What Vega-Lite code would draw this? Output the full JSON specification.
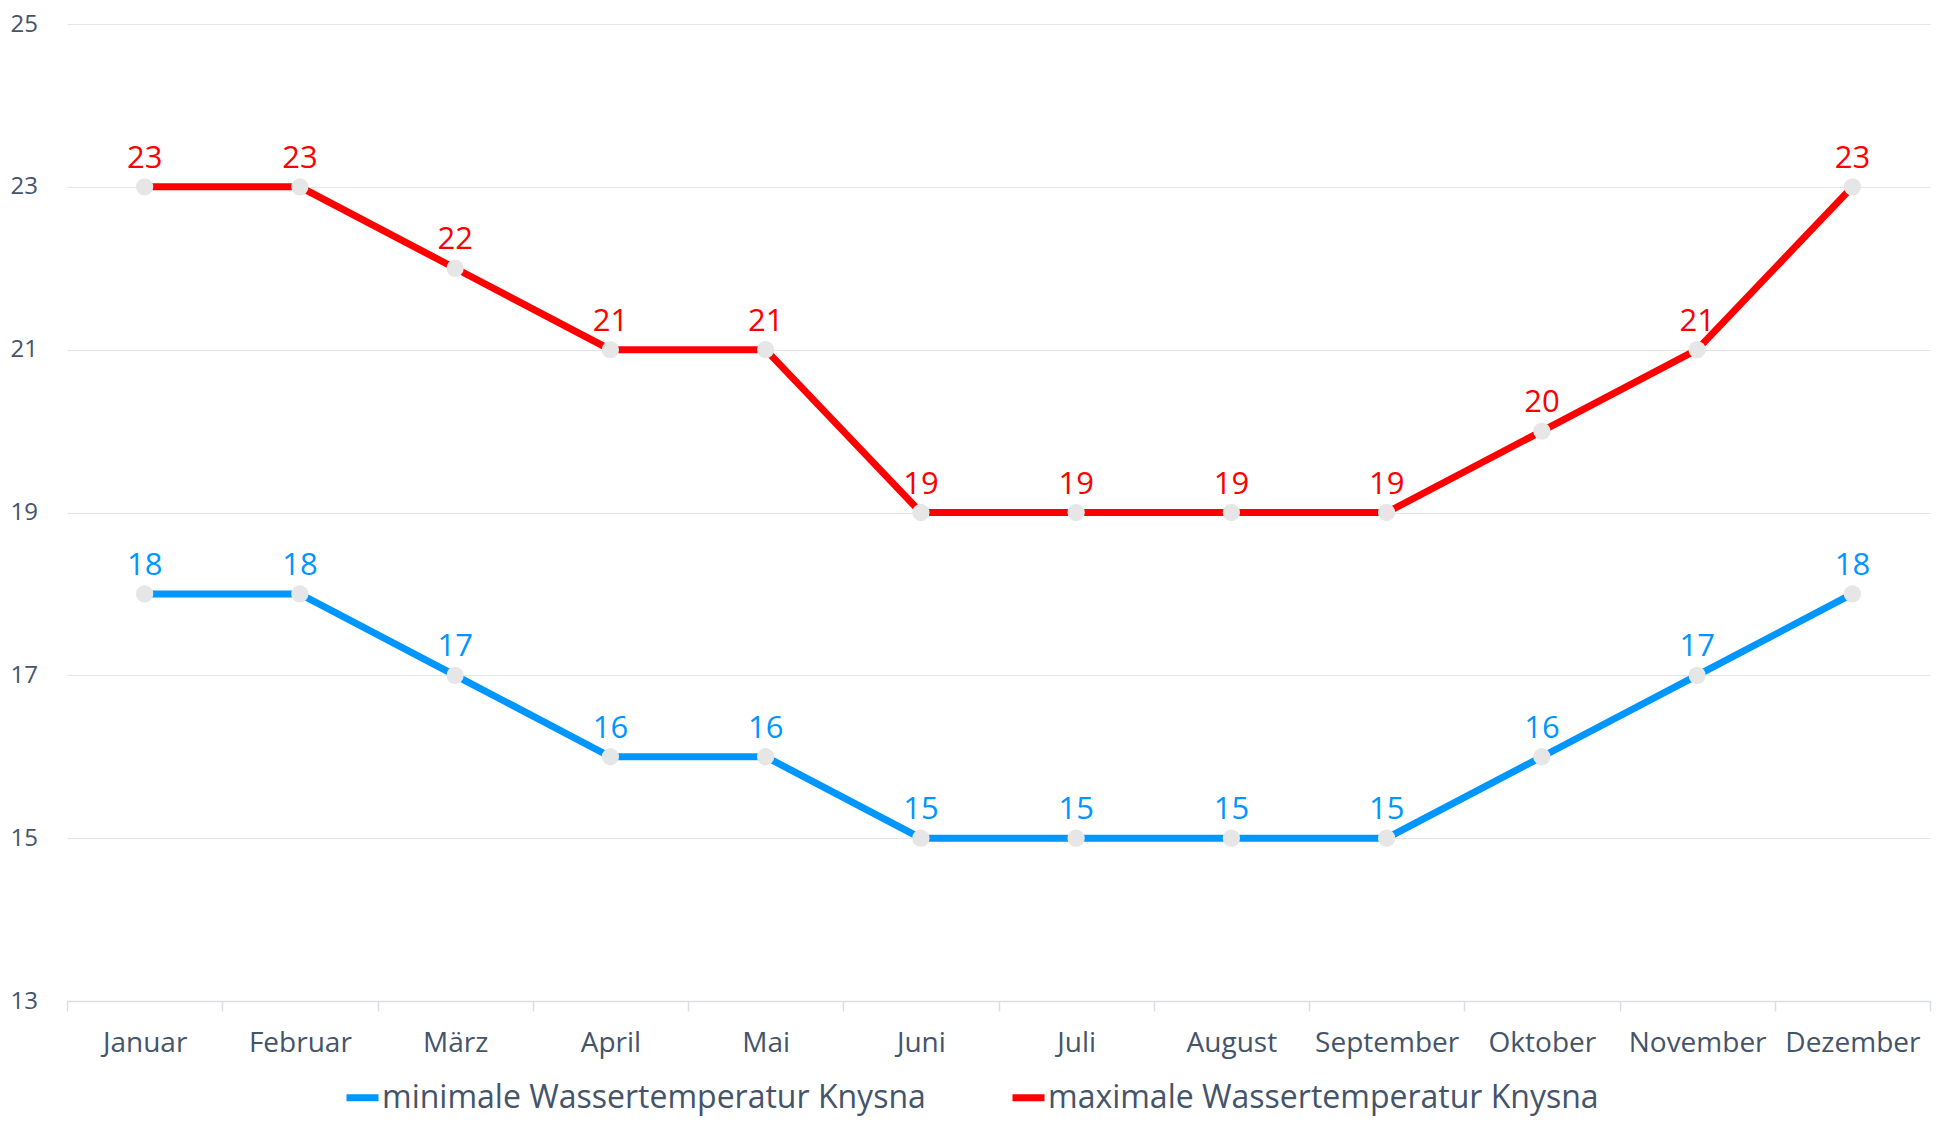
{
  "$schema": "https://vega.github.io/schema/vega-lite/v6.json",
  "autosize": {"type": "none"},
  "width": 1863,
  "height": 977,
  "padding": {"left": 67, "top": 24, "right": 15, "bottom": 130},
  "background": "white",
  "config": {
    "view": {"stroke": null},
    "font": "Open Sans"
  },
  "data": {
    "values": [
      {"Monat": "Januar", "Serie": "minimale Wassertemperatur Knysna", "Wert": 18},
      {"Monat": "Februar", "Serie": "minimale Wassertemperatur Knysna", "Wert": 18},
      {"Monat": "März", "Serie": "minimale Wassertemperatur Knysna", "Wert": 17},
      {"Monat": "April", "Serie": "minimale Wassertemperatur Knysna", "Wert": 16},
      {"Monat": "Mai", "Serie": "minimale Wassertemperatur Knysna", "Wert": 16},
      {"Monat": "Juni", "Serie": "minimale Wassertemperatur Knysna", "Wert": 15},
      {"Monat": "Juli", "Serie": "minimale Wassertemperatur Knysna", "Wert": 15},
      {"Monat": "August", "Serie": "minimale Wassertemperatur Knysna", "Wert": 15},
      {"Monat": "September", "Serie": "minimale Wassertemperatur Knysna", "Wert": 15},
      {"Monat": "Oktober", "Serie": "minimale Wassertemperatur Knysna", "Wert": 16},
      {"Monat": "November", "Serie": "minimale Wassertemperatur Knysna", "Wert": 17},
      {"Monat": "Dezember", "Serie": "minimale Wassertemperatur Knysna", "Wert": 18},
      {"Monat": "Januar", "Serie": "maximale Wassertemperatur Knysna", "Wert": 23},
      {"Monat": "Februar", "Serie": "maximale Wassertemperatur Knysna", "Wert": 23},
      {"Monat": "März", "Serie": "maximale Wassertemperatur Knysna", "Wert": 22},
      {"Monat": "April", "Serie": "maximale Wassertemperatur Knysna", "Wert": 21},
      {"Monat": "Mai", "Serie": "maximale Wassertemperatur Knysna", "Wert": 21},
      {"Monat": "Juni", "Serie": "maximale Wassertemperatur Knysna", "Wert": 19},
      {"Monat": "Juli", "Serie": "maximale Wassertemperatur Knysna", "Wert": 19},
      {"Monat": "August", "Serie": "maximale Wassertemperatur Knysna", "Wert": 19},
      {"Monat": "September", "Serie": "maximale Wassertemperatur Knysna", "Wert": 19},
      {"Monat": "Oktober", "Serie": "maximale Wassertemperatur Knysna", "Wert": 20},
      {"Monat": "November", "Serie": "maximale Wassertemperatur Knysna", "Wert": 21},
      {"Monat": "Dezember", "Serie": "maximale Wassertemperatur Knysna", "Wert": 23}
    ]
  },
  "encoding": {
    "x": {
      "field": "Monat",
      "type": "nominal",
      "bandPosition": 0.5,
      "sort": ["Januar", "Februar", "März", "April", "Mai", "Juni", "Juli", "August", "September", "Oktober", "November", "Dezember"],
      "scale": {"type": "band", "paddingInner": 0, "paddingOuter": 0},
      "axis": {
        "title": null,
        "labelAngle": 0,
        "labelFont": "Open Sans",
        "labelFontSize": 28,
        "labelColor": "#44546A",
        "labelPadding": 18,
        "labelBaseline": "top",
        "domainColor": "#D9DDE5",
        "domainWidth": 1.5,
        "tickColor": "#D9DDE5",
        "tickWidth": 1.5,
        "tickSize": 10,
        "tickBand": "extent",
        "grid": false
      }
    },
    "y": {
      "field": "Wert",
      "type": "quantitative",
      "scale": {"domain": [13, 25], "nice": false, "zero": false},
      "axis": {
        "title": null,
        "values": [13, 15, 17, 19, 21, 23, 25],
        "labelFont": "Open Sans",
        "labelFontSize": 24,
        "labelColor": "#44546A",
        "labelAlign": "left",
        "labelBaseline": "middle",
        "labelPadding": 57,
        "ticks": false,
        "tickSize": 0,
        "domain": false,
        "grid": true,
        "gridColor": "#E1E5EB",
        "gridWidth": 1.2
      }
    }
  },
  "layer": [
    {
      "mark": {"type": "line", "strokeWidth": 7},
      "encoding": {
        "color": {
          "field": "Serie",
          "type": "nominal",
          "sort": ["minimale Wassertemperatur Knysna", "maximale Wassertemperatur Knysna"],
          "scale": {
            "domain": ["minimale Wassertemperatur Knysna", "maximale Wassertemperatur Knysna"],
            "range": ["#0096FF", "#FF0000"]
          },
          "legend": {
            "title": null,
            "orient": "none",
            "direction": "horizontal",
            "legendX": 276,
            "legendY": 1054,
            "symbolType": "stroke",
            "symbolSize": 1024,
            "symbolStrokeWidth": 7,
            "labelFont": "Open Sans",
            "labelFontSize": 32,
            "labelColor": "#44546A",
            "labelOffset": 0,
            "labelLimit": 900,
            "columnPadding": 72
          }
        }
      }
    },
    {
      "mark": {"type": "point", "filled": true, "size": 300, "color": "#E6E6E6", "opacity": 1},
      "encoding": {"detail": {"field": "Serie"}}
    },
    {
      "mark": {"type": "text", "font": "Open Sans", "fontSize": 31, "baseline": "alphabetic", "align": "center", "dy": -19},
      "encoding": {
        "text": {"field": "Wert", "type": "quantitative"},
        "color": {"field": "Serie", "type": "nominal", "legend": null}
      }
    }
  ]
}
